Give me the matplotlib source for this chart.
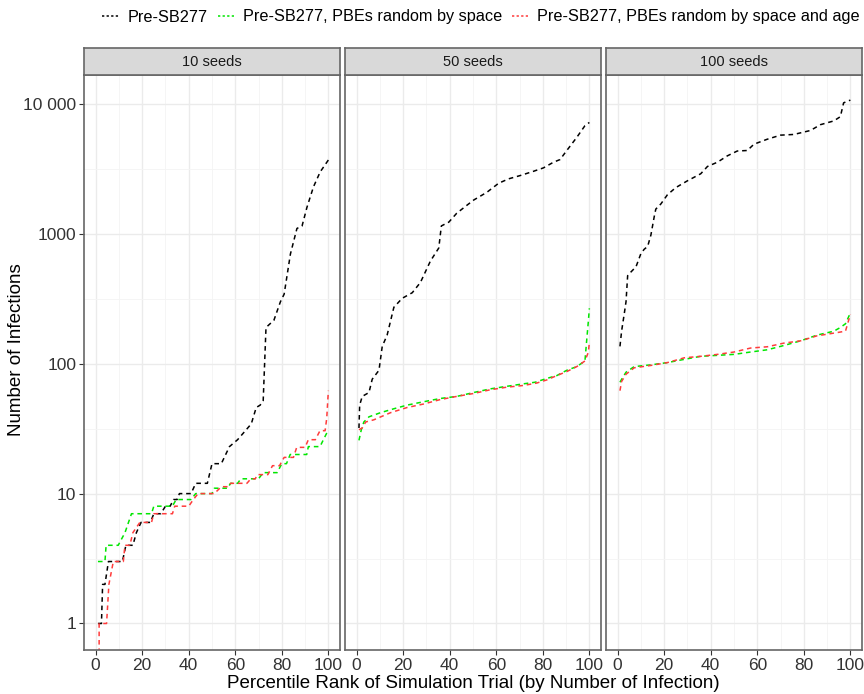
import numpy as np
import matplotlib
matplotlib.use("Agg")
import matplotlib.pyplot as plt
from matplotlib.lines import Line2D
from matplotlib.ticker import FixedLocator, FixedFormatter

plt.rcParams['font.family'] = ['Liberation Sans', 'DejaVu Sans']

# ---- data (percentile rank, number of infections) ----
panel_titles = ["10 seeds", "50 seeds", "100 seeds"]
series_labels = ["Pre-SB277", "Pre-SB277, PBEs random by space",
                 "Pre-SB277, PBEs random by space and age"]
series_colors = ["black", "#00e600", "#ff3b3b"]

# 10 seeds
pre10_x = [1, 2.5, 3, 4, 5.5, 11.5, 13, 16, 17.5, 19.5, 23.5, 25, 28, 30, 32, 33.5, 35, 36, 41, 43,
           48, 50, 54, 57.5, 61, 66, 67, 69, 70.7, 72, 73.2, 76.6, 79.4, 81, 83.7, 86.5, 88.7, 90.8,
           93.6, 96.5, 100]
pre10_y = [1, 1, 2, 2, 3, 3, 4, 4, 5, 6, 6, 7, 7, 8, 8, 9, 9, 10, 10, 12,
           12, 17, 17, 23, 26, 33, 35, 46, 48, 52, 190, 216, 300, 343, 700, 1100, 1150, 1600,
           2300, 3000, 3700]
space10_x = [1, 4, 4.5, 9.7, 12.6, 15.4, 24, 25, 33, 34.6, 41, 43, 50, 51, 56.7, 58, 61, 62.4, 70, 72,
             78, 80, 82, 83.6, 90.7, 91.4, 96.4, 100]
space10_y = [3, 3, 4, 4, 5, 7, 7, 8, 8, 9, 9, 10, 10, 11, 11, 12, 12, 13, 13, 14.5,
             14.5, 17, 17, 20, 20, 23, 23, 31]
age10_x = [1, 1.5, 4.7, 5.7, 7.6, 11.9, 12.6, 14.7, 16, 19, 24, 25, 33, 34, 40, 42, 44, 51, 54, 57,
           58, 65, 66.7, 68.6, 69.5, 74, 76, 79, 81, 85, 86.4, 90, 91.4, 94.4, 96.4, 98.6, 99.3, 100]
age10_y = [0, 1, 1, 2, 3, 3, 4, 4, 5, 6, 6, 7, 7, 8, 8, 9, 10, 10, 11.3, 11.3,
           12, 12, 13, 13, 14, 14, 16.4, 16.4, 19, 19, 22.7, 22.7, 26, 26, 30.5, 30.5, 38, 62]

# 50 seeds
pre50_x = [1, 1.3, 2.4, 5.3, 6.7, 9.6, 11, 13.1, 16, 19.6, 23.9, 27.4, 31.7, 35.3, 36.4, 39.6, 43,
           47.4, 50.3, 56, 61, 65.3, 70.3, 76, 80.3, 84.6, 87.4, 90.3, 94.6, 98.1, 100]
pre50_y = [32, 48, 56, 60, 76, 89, 136, 166, 272, 319, 352, 422, 617, 778, 1150, 1230, 1440,
           1660, 1820, 2090, 2450, 2650, 2810, 3030, 3220, 3560, 3730, 4380, 5530, 6800, 7200]
space50_x = [1, 2, 3.1, 5.3, 10.3, 16, 21.7, 28.9, 36, 43, 50.3, 57.4, 64.6, 71.7, 76.7, 81.7, 86,
             90.3, 94.6, 98.1, 98.9, 99.6, 100]
space50_y = [25.7, 31, 35.6, 39, 42, 45, 48, 51, 54, 56, 60, 64, 67, 70, 72, 77, 81,
             89, 95, 105, 155, 216, 267]
age50_x = [1, 2.4, 3.9, 7.4, 14.6, 21.7, 28.9, 36, 43, 50.3, 57.4, 64.6, 71.7, 77.4, 81.7, 86,
           90.3, 94.6, 98.1, 99.6, 100]
age50_y = [31, 32, 35.6, 37, 42, 46, 49, 53, 56, 59, 63, 66, 68, 71, 75, 81,
           87, 95, 105, 123, 147]

# 100 seeds
pre100_x = [1, 1.7, 2.9, 3.6, 4.3, 5.7, 7.9, 10, 11.4, 12.9, 14.3, 15.7, 16.4, 18.6, 21.4, 25, 30,
            35.7, 38.6, 42.9, 47.1, 51.4, 55.7, 58.6, 64.3, 70, 75.7, 82.9, 87.1, 92.9, 95.7, 97.1, 100]
pre100_y = [136, 178, 246, 300, 476, 508, 558, 705, 760, 800, 980, 1350, 1550, 1700, 2000, 2270, 2560,
            2900, 3300, 3560, 3980, 4340, 4380, 4900, 5350, 5750, 5820, 6250, 6920, 7400, 7980, 10200, 10700]
space100_x = [1, 2.1, 3.6, 7.1, 14.3, 21.4, 28.6, 35.7, 42.9, 50, 57.1, 64.3, 71.4, 78.6, 85.7,
              92.9, 95.7, 97.9, 100]
space100_y = [72, 78, 86, 95, 98, 102, 108, 114, 116, 118, 123, 128, 138, 150, 166,
              178, 190, 203, 246]
age100_x = [1, 1.7, 3.6, 7.1, 14.3, 21.4, 28.6, 35.7, 42.9, 50, 57.1, 64.3, 71.4, 78.6, 85.7,
            92.9, 97.9, 100]
age100_y = [62, 73, 83, 93, 97, 102, 111, 114, 118, 123, 132, 135, 144, 150, 164,
            172, 178, 240]

x_ticks = [0, 20, 40, 60, 80, 100]
y_ticks = [1, 10, 100, 1000, 10000]
y_tick_labels = ["1", "10", "100", "1000", "10 000"]

panels = [
    [(pre10_x, pre10_y), (space10_x, space10_y), (age10_x, age10_y)],
    [(pre50_x, pre50_y), (space50_x, space50_y), (age50_x, age50_y)],
    [(pre100_x, pre100_y), (space100_x, space100_y), (age100_x, age100_y)],
]

W, H = 864, 694
fig = plt.figure(figsize=(W / 100, H / 100), dpi=100)

lefts = [84, 345, 606]
pw = 256
top, bottom = 75, 650
strip_top = 48

for i, left in enumerate(lefts):
    ax = fig.add_axes([left / W, 1 - bottom / H, pw / W, (bottom - top) / H])
    ax.set_yscale("log")
    ax.set_xlim(-5, 105)
    ax.set_ylim(0.625, 16700)
    ax.yaxis.set_major_locator(FixedLocator(y_ticks))
    ax.yaxis.set_minor_locator(FixedLocator([10 ** (k + 0.5) for k in range(-1, 5)]))
    ax.xaxis.set_major_locator(FixedLocator(x_ticks))
    ax.xaxis.set_minor_locator(FixedLocator([10, 30, 50, 70, 90]))
    ax.grid(which="major", color="#ebebeb", lw=1.0)
    ax.grid(which="minor", color="#f4f4f4", lw=0.6)
    ax.set_axisbelow(True)
    for (xs, ys), c in zip(panels[i], series_colors):
        ax.plot(xs, ys, color=c, lw=1.1, ls=(0, (3, 2.5)))
    for s in ax.spines.values():
        s.set_color("#666666")
        s.set_linewidth(1.2)
    ax.tick_params(which="minor", length=0)
    ax.tick_params(which="major", length=3.5, color="#333333", labelsize=12.5,
                   labelcolor="#333333", pad=2)
    ax.set_xticklabels([str(t) for t in x_ticks])
    if i == 0:
        ax.yaxis.set_major_formatter(FixedFormatter(y_tick_labels))
    else:
        ax.tick_params(axis="y", which="both", left=False, labelleft=False)
    ax.yaxis.set_minor_formatter(FixedFormatter([]))

    sax = fig.add_axes([left / W, 1 - top / H, pw / W, (top - strip_top) / H])
    sax.set_facecolor("#d9d9d9")
    sax.set_xticks([])
    sax.set_yticks([])
    for s in sax.spines.values():
        s.set_color("#666666")
        s.set_linewidth(1.2)
    sax.text(0.5, 0.5, panel_titles[i], ha="center", va="center", fontsize=10.5,
             color="#1a1a1a", transform=sax.transAxes)

fig.text(17 / W, 1 - 350 / H, "Number of Infections", rotation=90,
         ha="center", va="center", fontsize=13.5)
fig.text((84 + 862) / 2 / W, 1 - 684 / H, "Percentile Rank of Simulation Trial (by Number of Infection)",
         ha="center", va="center", fontsize=13.5)

handles = [Line2D([], [], color=c, lw=1.1, ls=(0, (1.5, 1.5))) for c in series_colors]
fig.legend(handles, series_labels, loc="center", bbox_to_anchor=(481 / W, 1 - 17 / H), ncol=3,
           frameon=False, fontsize=11.7, handlelength=1.0, handletextpad=0.55, columnspacing=0.6,
           borderpad=0.2)

fig.savefig("out.png", dpi=100)
